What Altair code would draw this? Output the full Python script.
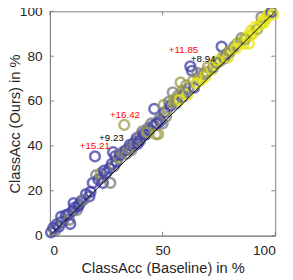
import altair as alt
import pandas as pd

# Scatter points: baseline accuracy, ours accuracy, colour group
xs = [0.5, 1.5, 2.5, 3, 4, 5, 5, 6, 7, 8, 8.5, 9, 10, 10.5, 11, 12, 12.5, 13, 16, 17.5,
      19, 20, 20.5, 21.5, 22.5, 23, 23.5, 24, 25, 26.5, 26.8, 27.5, 28, 28.5, 29, 29.5, 30.5, 31, 32, 33,
      33.5, 34, 35, 35.5, 36, 37, 38, 38.5, 39.5, 40, 41, 41.5, 42.5, 43.5, 44, 45, 46, 46.3, 47, 48,
      48.5, 49, 50, 50.5, 51, 51.5, 52, 52.8, 53.5, 54.5, 55, 56, 57, 58, 58.9, 59, 60, 60.5, 61, 62.3,
      63, 63.5, 64, 65.4, 66, 67.5, 68, 69, 70, 71.9, 72.5, 73.2, 74, 75.3, 76.2, 77, 77.5, 78.5, 79, 80,
      81.8, 83.1, 84, 85, 86, 87.4, 88.3, 89.2, 90, 91, 92, 93.5, 93.9, 95, 96, 97, 98.3, 99,
      14, 15, 18, 37.5, 39, 43, 47.5, 55.5, 57.5, 61.5, 65, 69.5, 74.5, 79.5, 82.5, 86.5, 89, 94.5]
ys = [1.5, 3.5, 2.5, 5, 4, 6, 8.5, 6.5, 9, 9.5, 7, 5.2, 11, 14.5, 12.5, 11.5, 13, 14, 18.5, 17.5,
      23.5, 35.3, 27, 25, 27.8, 26, 23.5, 29, 28, 30, 23.5, 32, 37.2, 31, 35.5, 33, 34.8, 36, 37, 49.4,
      38, 36.5, 39, 40.5, 38, 41, 42, 43.5, 44, 42.5, 46.5, 45.5, 45, 48, 47, 50, 49, 56.5, 45.2, 45.2,
      52, 51, 50, 58.3, 55, 53, 56, 59.6, 58, 63.9, 60, 59, 62.6, 68.3, 64.8, 62, 64, 67, 63, 75.5,
      73.5, 69, 66, 72.6, 70, 69.6, 72, 71, 75, 73.9, 75, 76.1, 77, 77.8, 84.3, 80, 79, 81, 79.5, 82,
      84.3, 85.6, 86, 88, 85.5, 88.7, 85.6, 91.3, 90, 93, 92, 94.3, 97.4, 95, 97, 98.7, 99.6, 98.5,
      15.5, 16, 19.5, 40, 41, 46, 50, 61, 60.5, 65.5, 68, 73, 78, 82, 83.5, 87.5, 89.5, 96]
groups = ["b", "b", "g", "b", "b", "b", "b", "g", "b", "b", "g", "b", "b", "b", "b", "g", "b", "b", "b", "b",
          "b", "b", "g", "b", "o", "g", "b", "b", "b", "b", "g", "b", "b", "g", "b", "b", "o", "b", "g", "o",
          "b", "g", "g", "b", "g", "b", "g", "b", "g", "b", "g", "b", "b", "g", "b", "g", "b", "b", "o", "o",
          "g", "b", "g", "o", "b", "g", "o", "g", "b", "g", "o", "g", "g", "o", "o", "b", "g", "o", "y", "b",
          "b", "o", "b", "g", "o", "y", "g", "y", "o", "y", "g", "y", "g", "g", "b", "o", "g", "g", "y", "o",
          "g", "o", "y", "g", "y", "y", "y", "y", "y", "y", "o", "y", "g", "y", "y", "y", "b", "y",
          "b", "g", "b", "g", "b", "o", "b", "o", "y", "g", "y", "o", "y", "o", "y", "o", "y", "y"]

# Annotations: text, colour, label position
ann_text = ["+15.21", "+9.23", "+16.42", "+11.85", "+8.94"]
ann_color = ["#ff0000", "#000000", "#ff0000", "#ff0000", "#000000"]
ann_x = [19.9, 27.3, 33.3, 59.3, 68.0]
ann_y = [40.0, 43.5, 53.9, 82.6, 78.7]

x_ticks = [0, 50, 100]
y_ticks = [0, 20, 40, 60, 80, 100]
diag = [0, 100]

W, H = 231, 230
AX = "#808080"

pts = pd.DataFrame({"x": xs, "y": ys, "g": groups})
ann = pd.DataFrame({"x": ann_x, "y": ann_y, "t": ann_text, "c": ann_color})
dline = pd.DataFrame({"x": diag, "y": diag})
xt = pd.DataFrame({"v": x_ticks})
yt = pd.DataFrame({"v": y_ticks})

xsc = alt.Scale(domain=[0, 100], nice=False)
ysc = alt.Scale(domain=[0, 100], nice=False)

xaxis = alt.Axis(values=x_ticks, title="ClassAcc (Baseline) in %", grid=False, ticks=False,
                 domainColor=AX, labelFontSize=14, titleFontSize=15, labelPadding=8,
                 titlePadding=4, labelColor="#262626", titleColor="#262626", titleFontWeight="normal",
                 labelFont="Liberation Sans", titleFont="Liberation Sans")
yaxis = alt.Axis(values=y_ticks, title="ClassAcc (Ours) in %", grid=False, ticks=False,
                 domainColor=AX, labelFontSize=14, titleFontSize=15, labelPadding=8,
                 titlePadding=-3, labelColor="#262626", titleColor="#262626", titleFontWeight="normal",
                 labelFont="Liberation Sans", titleFont="Liberation Sans")

scatter = alt.Chart(pts).mark_point(shape="circle", filled=False, size=100, strokeWidth=2.6, opacity=0.75).encode(
    x=alt.X("x:Q", scale=xsc, axis=xaxis),
    y=alt.Y("y:Q", scale=ysc, axis=yaxis),
    color=alt.Color("g:N", scale=alt.Scale(domain=["b", "g", "o", "y"],
                                           range=["#4040a8", "#7c7c7c", "#9e9e4a", "#e4e410"]),
                    legend=None),
)

line = alt.Chart(dline).mark_line(color="black", strokeWidth=1).encode(
    x=alt.X("x:Q", scale=xsc), y=alt.Y("y:Q", scale=ysc))

labels = alt.Chart(ann).mark_text(fontSize=10, font="Liberation Sans").encode(
    x=alt.X("x:Q", scale=xsc), y=alt.Y("y:Q", scale=ysc),
    text="t:N", color=alt.Color("c:N", scale=None))

tb = alt.Chart(xt).mark_rule(color=AX, strokeWidth=1).encode(
    x=alt.X("v:Q", scale=xsc), y=alt.value(H), y2=alt.value(H - 4))
tt = alt.Chart(xt).mark_rule(color=AX, strokeWidth=1).encode(
    x=alt.X("v:Q", scale=xsc), y=alt.value(0), y2=alt.value(4))
tl = alt.Chart(yt).mark_rule(color=AX, strokeWidth=1).encode(
    y=alt.Y("v:Q", scale=ysc), x=alt.value(0), x2=alt.value(4))
tr = alt.Chart(yt).mark_rule(color=AX, strokeWidth=1).encode(
    y=alt.Y("v:Q", scale=ysc), x=alt.value(W), x2=alt.value(W - 4))

chart = alt.layer(scatter, line, labels, tb, tt, tl, tr).properties(
    width=W, height=H,
    autosize=alt.AutoSizeParams(type="none"),
    padding={"left": 43, "top": 0, "right": 10, "bottom": 40},
).configure_view(stroke=AX, strokeWidth=1)

chart.save("out.html", embed_options={"renderer": "svg", "actions": False})
